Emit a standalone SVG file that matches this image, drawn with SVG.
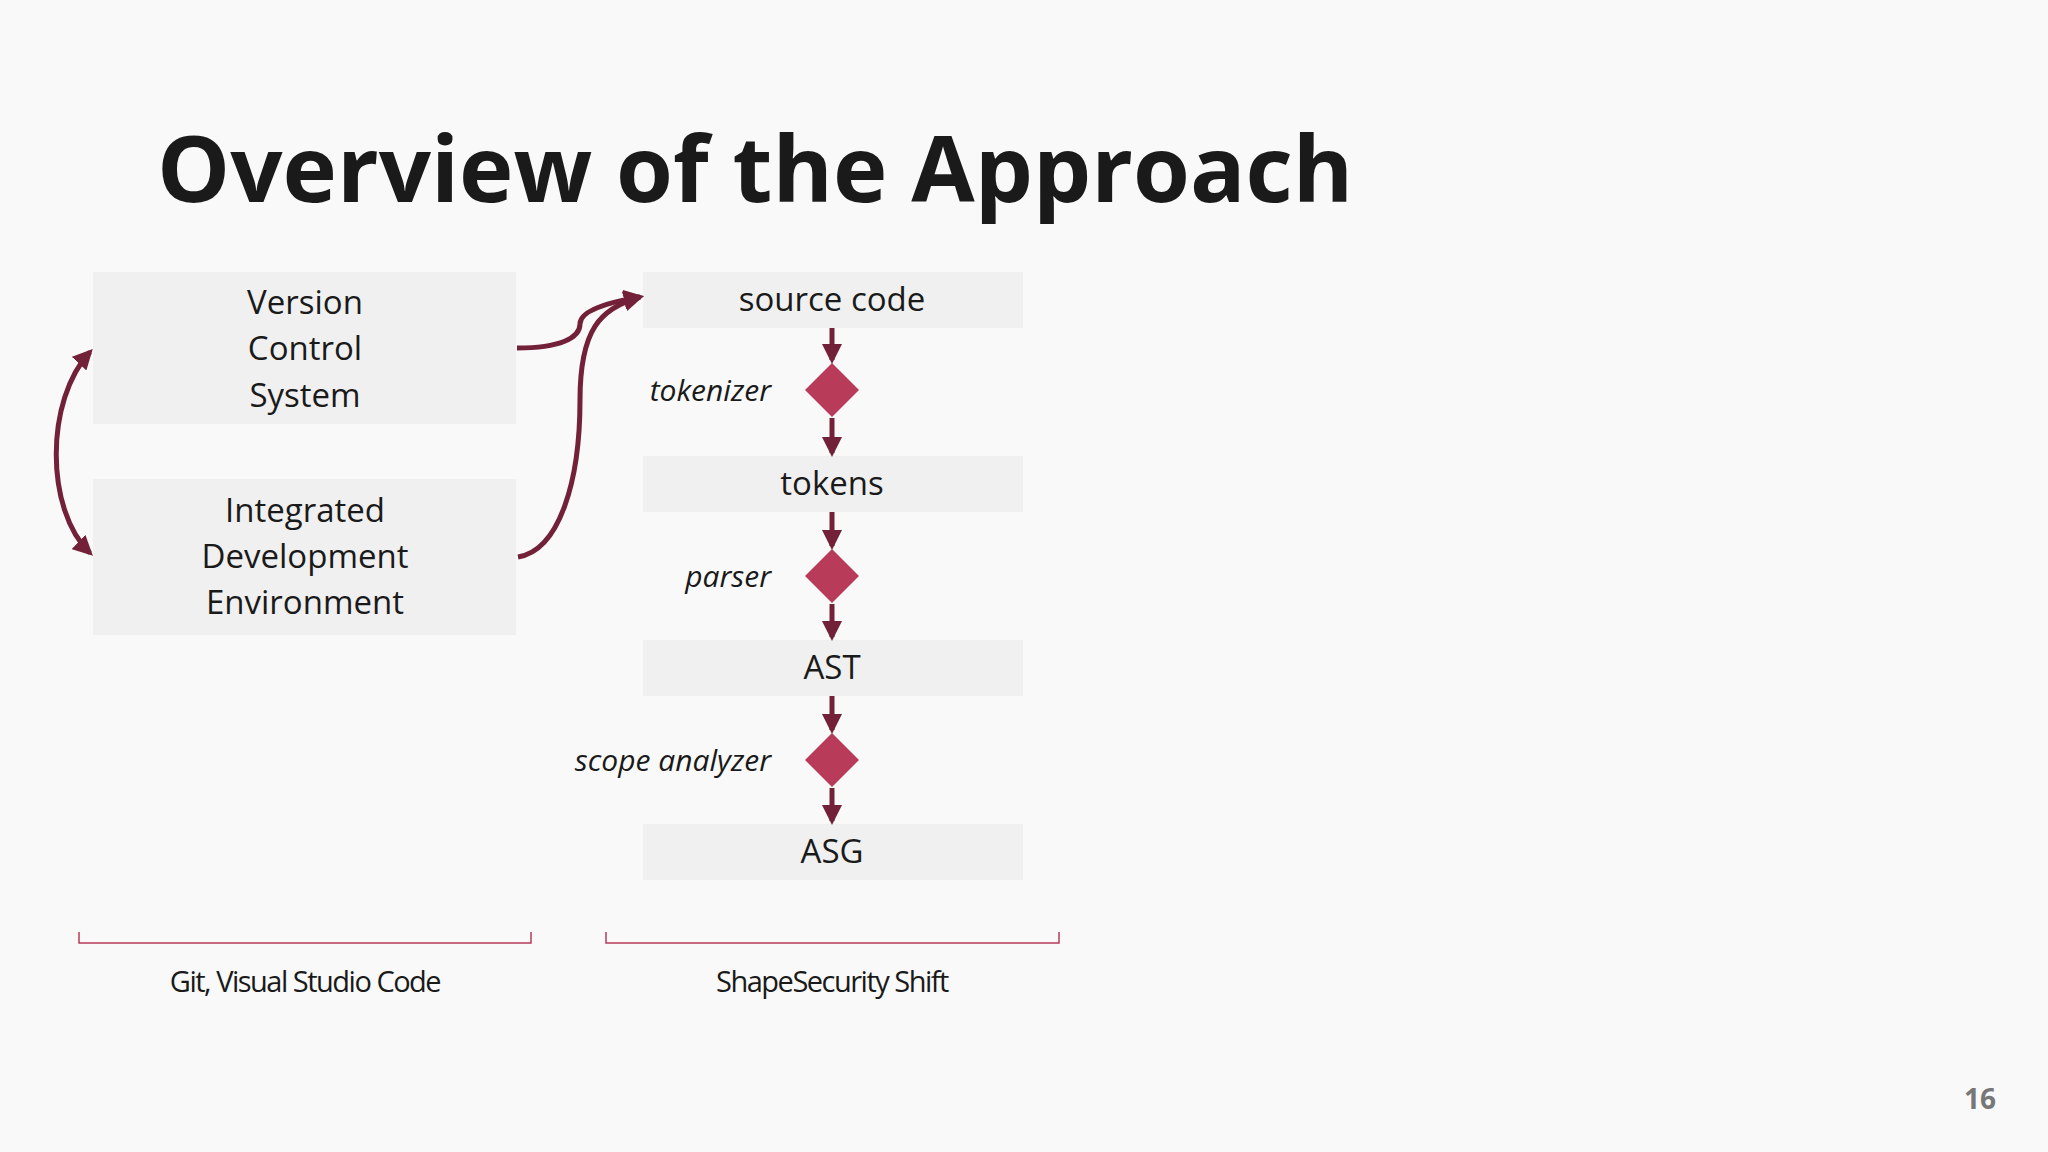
<svg xmlns="http://www.w3.org/2000/svg" width="2048" height="1152" viewBox="0 0 2048 1152">
<style>
.box{fill:#f0f0f0}
.t{font-family:"Open Sans","Liberation Sans",sans-serif;font-size:33px;fill:#1a1a1a;text-anchor:middle}
.lab{font-family:"Open Sans","Liberation Sans",sans-serif;font-size:30px;font-style:italic;fill:#1a1a1a;text-anchor:end}
.br{font-family:"Open Sans","Liberation Sans",sans-serif;font-size:29px;fill:#1a1a1a;text-anchor:middle;letter-spacing:-1.5px}
.c{fill:none;stroke:#722138;stroke-width:5}
.dia{fill:#b83b59}
.brk{fill:none;stroke:#b83b59;stroke-width:1.5}
</style>
<defs>
<marker id="ah" viewBox="0 0 10 10" refX="8" refY="5" markerWidth="4" markerHeight="4" orient="auto-start-reverse" markerUnits="strokeWidth"><path d="M0,0 L10,5 L0,10 z" fill="#722138"/></marker>
</defs>
<rect width="2048" height="1152" fill="#f9f9f9"/>
<text x="157" y="202" font-family="'Open Sans','Liberation Sans',sans-serif" font-weight="bold" font-size="92" fill="#1a1a1a">Overview of the Approach</text>
<g id="vcs"><rect class="box" x="93" y="272" width="423" height="152"/>
<text class="t" x="305" y="314">Version</text><text class="t" x="305" y="360">Control</text><text class="t" x="305" y="407">System</text></g>
<g id="ide"><rect class="box" x="93" y="479" width="423" height="156"/>
<text class="t" x="305" y="522">Integrated</text><text class="t" x="305" y="568">Development</text><text class="t" x="305" y="614">Environment</text></g>
<g id="src"><rect class="box" x="643" y="272" width="380" height="56"/><text class="t" x="832" y="311" font-size="31">source code</text></g>
<g id="tokens"><rect class="box" x="643" y="456" width="380" height="56"/><text class="t" x="832" y="495" font-size="31">tokens</text></g>
<g id="ast"><rect class="box" x="643" y="640" width="380" height="56"/><text class="t" x="832" y="679" font-size="31">AST</text></g>
<g id="asg"><rect class="box" x="643" y="824" width="380" height="56"/><text class="t" x="832" y="863" font-size="31">ASG</text></g>
<g id="tokenizer"><path class="dia" d="M832,363 L859,390 L832,417 L805,390 z"/><text class="lab" x="771" y="401">tokenizer</text></g>
<g id="parser"><path class="dia" d="M832,549 L859,576 L832,603 L805,576 z"/><text class="lab" x="771" y="587">parser</text></g>
<g id="scope"><path class="dia" d="M832,733 L859,760 L832,787 L805,760 z"/><text class="lab" x="771" y="771">scope analyzer</text></g>
<g id="connectors">
<path class="c" d="M832,328 V360" marker-end="url(#ah)"/>
<path class="c" d="M832,418 V453" marker-end="url(#ah)"/>
<path class="c" d="M832,512 V546" marker-end="url(#ah)"/>
<path class="c" d="M832,604 V637" marker-end="url(#ah)"/>
<path class="c" d="M832,696 V730" marker-end="url(#ah)"/>
<path class="c" d="M832,788 V821" marker-end="url(#ah)"/>
<path class="c" d="M517,348 C560,348 580,338 580,324 C580,310 610,302 640,297" marker-end="url(#ah)"/>
<path class="c" d="M518,557 C560,550 580,480 580,400 C580,330 600,308 640,297" marker-end="url(#ah)"/>
<path class="c" d="M90,352 C45,400 45,510 90,553" marker-start="url(#ah)" marker-end="url(#ah)"/>
</g>
<g id="brackets">
<path class="brk" d="M79,932 V943 H531 V932"/>
<path class="brk" d="M606,932 V943 H1059 V932"/>
<text class="br" x="305" y="992">Git, Visual Studio Code</text>
<text class="br" x="832" y="992">ShapeSecurity Shift</text>
</g>
<text x="1980" y="1109" font-family="'Open Sans','Liberation Sans',sans-serif" font-weight="bold" font-size="28" fill="#777" text-anchor="middle">16</text>
</svg>
